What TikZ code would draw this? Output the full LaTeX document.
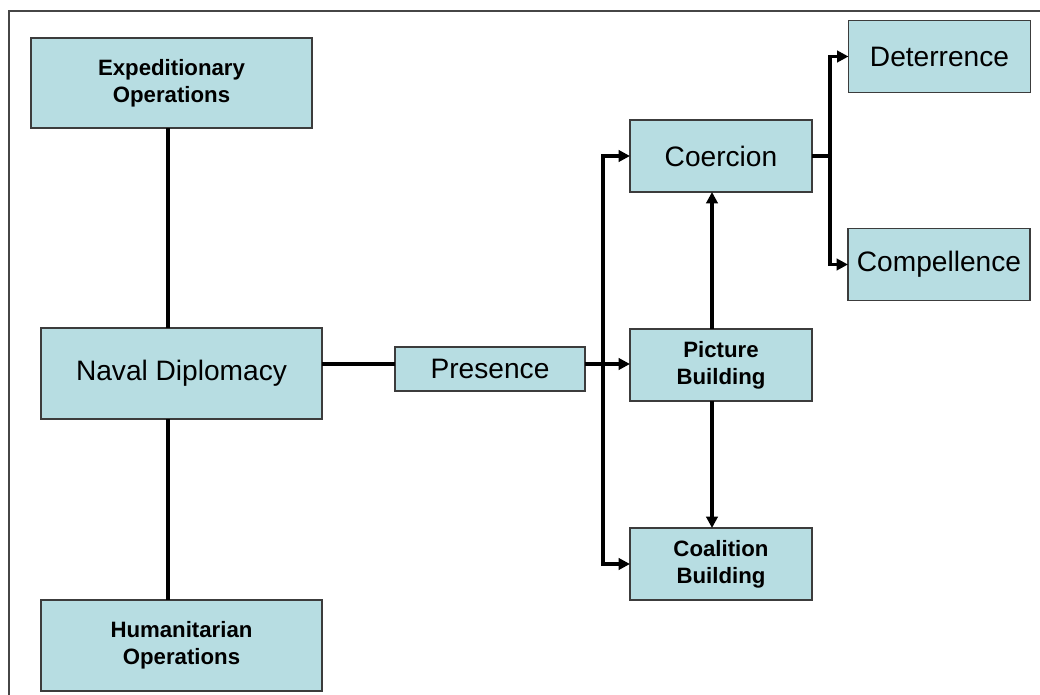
\documentclass[tikz,border=0pt]{standalone}
\usepackage{fontspec}
\setmainfont{Liberation Sans}
\usetikzlibrary{arrows.meta, positioning}
\definecolor{boxfill}{RGB}{183,221,226}
\definecolor{boxline}{RGB}{60,60,60}
\definecolor{framegray}{RGB}{70,70,70}

\begin{document}
\begin{tikzpicture}[x=0.025cm, y=-0.025cm,
    box/.style={rectangle, draw=boxline, line width=1pt, fill=boxfill, inner sep=0pt, outer sep=0pt, align=center, font=\fontsize{20}{24}\selectfont},
    boldbox/.style={box, font=\fontsize{15.8}{19}\selectfont\bfseries},
    widebox/.style={minimum width=7.025cm, minimum height=2.275cm},
    smallbox/.style={minimum width=4.55cm, minimum height=1.8cm},
    link/.style={line width=2.4pt, black},
    arr/.style={link, -{Triangle[length=8pt,width=8pt]}}]
    \useasboundingbox (0,0) rectangle (1040,695);
    \draw[framegray, line width=1.5pt] (9,695) -- (9,11) -- (1040,11);

    % left column
    \node[boldbox, widebox, minimum height=2.25cm] (exp) at (171.5,83) {Expeditionary\\Operations};
    \node[box, widebox] (naval) at (181.5,373.5) {Naval Diplomacy};
    \node[boldbox, widebox] (hum) at (181.5,645.5) {Humanitarian\\Operations};
    \node[box, minimum width=4.75cm, minimum height=1.1cm] (pres) at (490,369) {Presence};

    % middle column
    \node[box, smallbox] (coer) at (721,156) {Coercion};
    \node[boldbox, smallbox] (pict) at (721,365) {Picture\\Building};
    \node[boldbox, smallbox] (coal) at (721,564) {Coalition\\Building};

    % right column
    \node[box, smallbox] (det) at (939.5,56.5) {Deterrence};
    \node[box, smallbox] (comp) at (939,264.5) {Compellence};

    \coordinate (spine) at (168,0);
    \coordinate (row) at (0,364);
    \coordinate (lefttrunk) at (603,364);
    \coordinate (midcol) at (712,0);
    \coordinate (righttrunk) at (830,156);

    \draw[link] (exp.south -| spine) -- (naval.north -| spine);
    \draw[link] (naval.south -| spine) -- (hum.north -| spine);
    \draw[link] (naval.east |- row) -- (pres.west |- row);
    \draw[arr] (pres.east |- row) -- (pict.west |- row);
    \draw[arr] (lefttrunk) |- (coer.west);
    \draw[arr] (lefttrunk) |- (coal.west);
    \draw[arr] (pict.north -| midcol) -- (coer.south -| midcol);
    \draw[arr] (pict.south -| midcol) -- (coal.north -| midcol);
    \draw[link] (coer.east) -- (righttrunk);
    \draw[arr] (righttrunk) |- (det.west);
    \draw[arr] (righttrunk) |- (comp.west);
\end{tikzpicture}
\end{document}
